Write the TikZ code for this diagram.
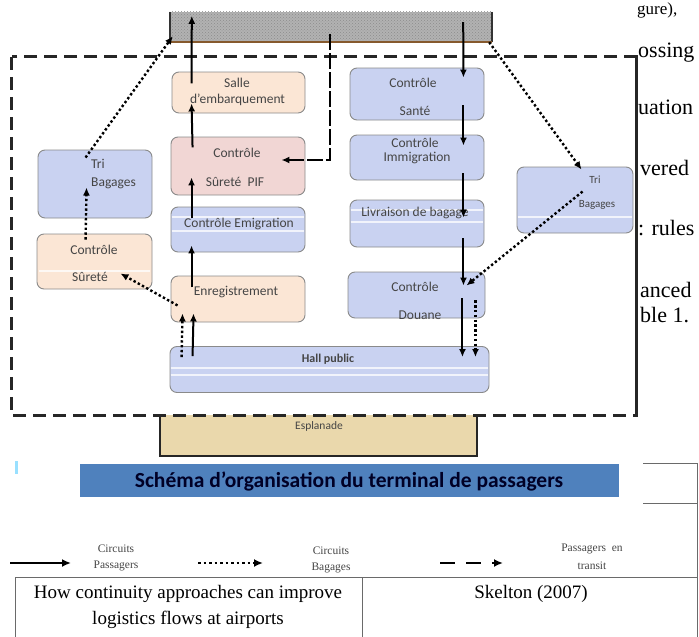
\documentclass[tikz,border=0pt]{standalone}
\usepackage{fontspec}
\setmainfont{Liberation Serif}
\newfontfamily\boxfont{Carlito}
\usetikzlibrary{arrows.meta,calc,patterns}
\definecolor{bluebox}{HTML}{C9D2F1}
\definecolor{peach}{HTML}{FBE6D5}
\definecolor{rose}{HTML}{F1D6D4}
\definecolor{boxline}{HTML}{8A8A8A}
\definecolor{bannerblue}{HTML}{4F81BD}
\definecolor{sand}{HTML}{EAD8AC}
\definecolor{txt}{HTML}{454545}
\definecolor{bordercol}{HTML}{262626}
\definecolor{framecol}{HTML}{6A6A6A}
\tikzset{
  box/.style={draw=boxline, line width=0.9pt, rounded corners=7pt, inner sep=0pt},
  lbl/.style={font=\boxfont\fontsize{13.5}{13.5}\selectfont, text=txt, inner sep=0pt},
  slbl/.style={font=\boxfont\fontsize{11}{11}\selectfont, text=txt, inner sep=0pt},
  stripe/.style={white, line width=1.1pt, opacity=0.75},
  pax/.style={-{Latex[length=8pt,width=7pt]}, line width=2pt, black},
  bag/.style={-{Latex[length=8pt,width=7pt]}, line width=2.4pt, black, dash pattern=on 2.4pt off 2.4pt},
  transit/.style={-{Latex[length=8pt,width=7pt]}, line width=2.2pt, black, dash pattern=on 16pt off 3pt},
  border/.style={line width=3pt, bordercol, dash pattern=on 13pt off 7pt},
  legtxt/.style={font=\fontsize{11.5}{11.5}\selectfont, text=txt, inner sep=0pt},
  frag/.style={font=\fontsize{22}{22}\selectfont, inner sep=0pt, anchor=base west},
  tabtxt/.style={font=\fontsize{19}{19}\selectfont, inner sep=0pt},
  frame/.style={framecol, line width=1pt}
}
\begin{document}
\begin{tikzpicture}[x=1pt,y=-1pt]
\useasboundingbox (0,0) rectangle (699,637);

% top area (grey) box
\node[fill=gray!60, minimum width=322pt, minimum height=30pt, inner sep=0pt] (top) at (331,27) {};
\fill[pattern=crosshatch dots, pattern color=gray!90] (top.south west) rectangle (top.north east);
\draw[line width=1.5pt, black!80] (top.north west) -- (top.south west);
\draw[line width=1.5pt, black!80] (top.north east) -- (top.south east);
\draw[line width=2pt, brown!70!black] (top.south west) -- (top.south east);

% esplanade
\node[fill=sand, minimum width=317pt, minimum height=41pt, inner sep=0pt] (espl) at (318.5,435.5) {};
\draw[line width=1.6pt, black!85] (espl.north west) -- (espl.south west) -- (espl.south east) -- (espl.north east);
\node[lbl, font=\boxfont\fontsize{11.5}{11.5}\selectfont] (esplT) at (319,426) {Esplanade};

% dashed boundary
\node[minimum width=624pt, minimum height=358pt, inner sep=0pt] (zone) at (324,236) {};
\draw[border] (zone.north west) rectangle (zone.south east);

% left column
\node[box, fill=bluebox, minimum width=114pt, minimum height=68pt] (trileft) at (95,184) {};
\node[lbl, anchor=west] (trileftA) at (91,164) {Tri};
\node[lbl, anchor=west] (trileftB) at (91,183) {Bagages};

\node[box, fill=peach, minimum width=115pt, minimum height=55pt] (csur) at (94.5,261.5) {};
\draw[stripe] ([xshift=2pt]csur.west |- 0,271) -- ([xshift=-2pt]csur.east |- 0,271);
\node[lbl] (csurA) at (94,250) {Contrôle};
\node[lbl] (csurB) at (90,277) {Sûreté};

% middle column
\node[box, fill=peach, minimum width=133pt, minimum height=41pt] (salle) at (238.5,92.5) {};
\node[lbl] (salleA) at (237,83) {Salle};
\node[lbl] (salleB) at (237.5,100) {d’embarquement};

\node[box, fill=rose, minimum width=134pt, minimum height=58pt] (pif) at (238,166) {};
\node[lbl] (pifA) at (237,153) {Contrôle};
\node[lbl] (pifB) at (235,182) {Sûreté\ \ PIF};

\node[box, fill=bluebox, minimum width=134pt, minimum height=45pt] (emig) at (238,229.5) {};
\draw[stripe] ([xshift=1pt]emig.west |- 0,217) -- ([xshift=-1pt]emig.east |- 0,217);
\draw[stripe] ([xshift=1pt]emig.west |- 0,231) -- ([xshift=-1pt]emig.east |- 0,231);
\node[lbl] (emigT) at (239,224) {Contrôle Emigration};

\node[box, fill=peach, minimum width=134pt, minimum height=46pt] (enr) at (238,299) {};
\node[lbl] (enrT) at (236,292) {Enregistrement};

\node[box, fill=bluebox, minimum width=319pt, minimum height=46pt] (hall) at (329.5,369.5) {};
\draw[stripe] ([xshift=1pt]hall.west |- 0,368) -- ([xshift=-1pt]hall.east |- 0,368);
\draw[stripe] ([xshift=1pt]hall.west |- 0,375) -- ([xshift=-1pt]hall.east |- 0,375);
\node[lbl, font=\boxfont\bfseries\fontsize{12}{12}\selectfont] (hallT) at (328,359) {Hall public};

% right column
\node[box, fill=bluebox, minimum width=134pt, minimum height=52pt] (sante) at (417,94) {};
\node[lbl] (santeA) at (413,83) {Contrôle};
\node[lbl] (santeB) at (415,111) {Santé};

\node[box, fill=bluebox, minimum width=134pt, minimum height=45pt] (immig) at (417,157.5) {};
\node[lbl] (immigA) at (415,143) {Contrôle};
\node[lbl] (immigB) at (417,158) {Immigration};

\node[box, fill=bluebox, minimum width=134pt, minimum height=47pt] (livr) at (417,223.5) {};
\draw[stripe] ([xshift=1pt]livr.west |- 0,210) -- ([xshift=-1pt]livr.east |- 0,210);
\draw[stripe] ([xshift=1pt]livr.west |- 0,222) -- ([xshift=-1pt]livr.east |- 0,222);
\node[lbl] (livrT) at (415,213) {Livraison de bagage};

\node[box, fill=bluebox, minimum width=137pt, minimum height=46pt] (douane) at (416.5,295) {};
\node[lbl] (douaneA) at (415,287) {Contrôle};
\node[lbl] (douaneB) at (420,315) {Douane};

\node[box, fill=bluebox, minimum width=116pt, minimum height=66pt] (trir) at (575,200) {};
\draw[stripe] ([xshift=1pt]trir.west |- 0,217) -- ([xshift=-1pt]trir.east |- 0,217);
\node[slbl] (trirA) at (595,180) {Tri};
\node[slbl] (trirB) at (597,205) {Bagages};

% redraw right border segment over the right Tri box
\draw[border] (zone.north east) -- (zone.south east);

% passenger circuits (solid)
\draw[pax] ($(hall.north west)+(23,10)$) -- ($(enr.south west)+(23,-9)$);
\draw[pax] ($(enr.south west)+(21,-35)$) -- ($(emig.south west)+(21,-7)$);
\draw[pax] ($(emig.south west)+(21,-34)$) -- ($(pif.south west)+(21,-18)$);
\draw[pax] ($(pif.south west)+(22,-48)$) -- ($(salle.south west)+(20,-10)$);
\draw[pax] ($(salle.south west)+(20,-30)$) -- ($(top.north west)+(22,4)$);
\draw[pax] ($(top.south east)+(-29,-20)$) -- ($(sante.north east)+(-21,10)$);
\draw[pax] ($(sante.south east)+(-21,-15)$) -- ($(immig.north east)+(-21,11)$);
\draw[pax] ($(immig.south east)+(-21,-7)$) -- ($(livr.north east)+(-21,18)$);
\draw[pax] ($(livr.south east)+(-21,-9)$) -- ($(douane.north east)+(-22,14)$);
\draw[pax] ($(douane.south east)+(-23,-20)$) -- ($(hall.north east)+(-27,11)$);

% baggage circuits (dotted)
\draw[bag] ($(hall.north west)+(12,11)$) -- ($(enr.south west)+(12,-9)$);
\draw[bag] ($(enr.south west)+(7,-17)$) -- ($(csur.south east)+(-32,-16)$);
\draw[bag] ($(csur.north west)+(49,6)$) -- ($(trileft.north west)+(49,38)$);
\draw[bag] ($(trileft.north west)+(48,8)$) -- ($(top.south west)+(3,-6)$);
\draw[bag] ($(top.south east)+(-3,0)$) -- ($(trir.north west)+(65,3)$);
\draw[bag] ($(trir.north west)+(66,25)$) -- ($(douane.north east)+(-19,14)$);
\draw[bag] ($(douane.south east)+(-10,-18)$) -- ($(hall.north east)+(-14,11)$);

% passengers in transit (dashed)
\draw[transit] ($(top.south)+(-1,-8)$) |- ($(pif.east)+(-24,-6)$);

% title banner
\node[fill=bannerblue, minimum width=539pt, minimum height=33pt, inner sep=0pt] (banner) at (349,480.5) {};
\node[font=\boxfont\bfseries\fontsize{21.5}{21.5}\selectfont, text=black!85!blue, inner sep=0pt] (bannerT) at (349,481) {Schéma d’organisation du terminal de passagers};
\node[fill=blue!30!cyan!40, minimum width=3pt, minimum height=13pt, inner sep=0pt] (tick) at (16.5,467.5) {};

% legend
\coordinate (l1a) at (10,563);
\coordinate (l1b) at (71,563);
\draw[-{Latex[length=9pt,width=8pt]}, line width=2.3pt] (l1a) -- (l1b);
\node[legtxt] (lt1a) at (116,549) {Circuits};
\node[legtxt] (lt1b) at (116,566) {Passagers};
\coordinate (l2a) at (198,563);
\coordinate (l2b) at (263,563);
\draw[-{Latex[length=9pt,width=8pt]}, line width=2.3pt, dash pattern=on 2.5pt off 3pt] (l2a) -- (l2b);
\node[legtxt] (lt2a) at (331,551) {Circuits};
\node[legtxt] (lt2b) at (331,568) {Bagages};
\coordinate (l3a) at (440,563);
\coordinate (l3b) at (503,563);
\draw[-{Latex[length=9pt,width=8pt]}, line width=2.3pt, dash pattern=on 15pt off 11pt] (l3a) -- (l3b);
\node[legtxt] (lt3a) at (592,549) {Passagers\ \ en};
\node[legtxt] (lt3b) at (592,566) {transit};

% table and frame lines
\coordinate (f1) at (643,463);
\coordinate (f2) at (697,463);
\coordinate (f3) at (643,503);
\coordinate (f4) at (697,503);
\coordinate (f5) at (697,637);
\draw[frame] (f1) -- (f2) -- (f5);
\draw[frame] (f3) -- (f4);
\coordinate (t1) at (15,577);
\coordinate (t2) at (697,577);
\coordinate (t3) at (15,637);
\coordinate (t4) at (362,577);
\coordinate (t5) at (362,637);
\draw[frame] (t3) -- (t1) -- (t2);
\draw[frame] (t4) -- (t5);
\node[tabtxt] (tabA) at (188,594) {How continuity approaches can improve};
\node[tabtxt] (tabB) at (188,620) {logistics flows at airports};
\node[tabtxt] (tabC) at (531,594) {Skelton (2007)};

% fragments of running text at right
\node[frag, font=\fontsize{17}{17}\selectfont] (fr0) at (637,14) {gure),};
\node[frag] (fr1) at (638,57) {ossing};
\node[frag] (fr2) at (638,114) {uation};
\node[frag] (fr3) at (640,175) {vered};
\node[frag] (fr4) at (638,235) {: rules};
\node[frag] (fr5) at (640,297) {anced};
\node[frag] (fr6) at (640,322) {ble 1.};
\end{tikzpicture}
\end{document}
